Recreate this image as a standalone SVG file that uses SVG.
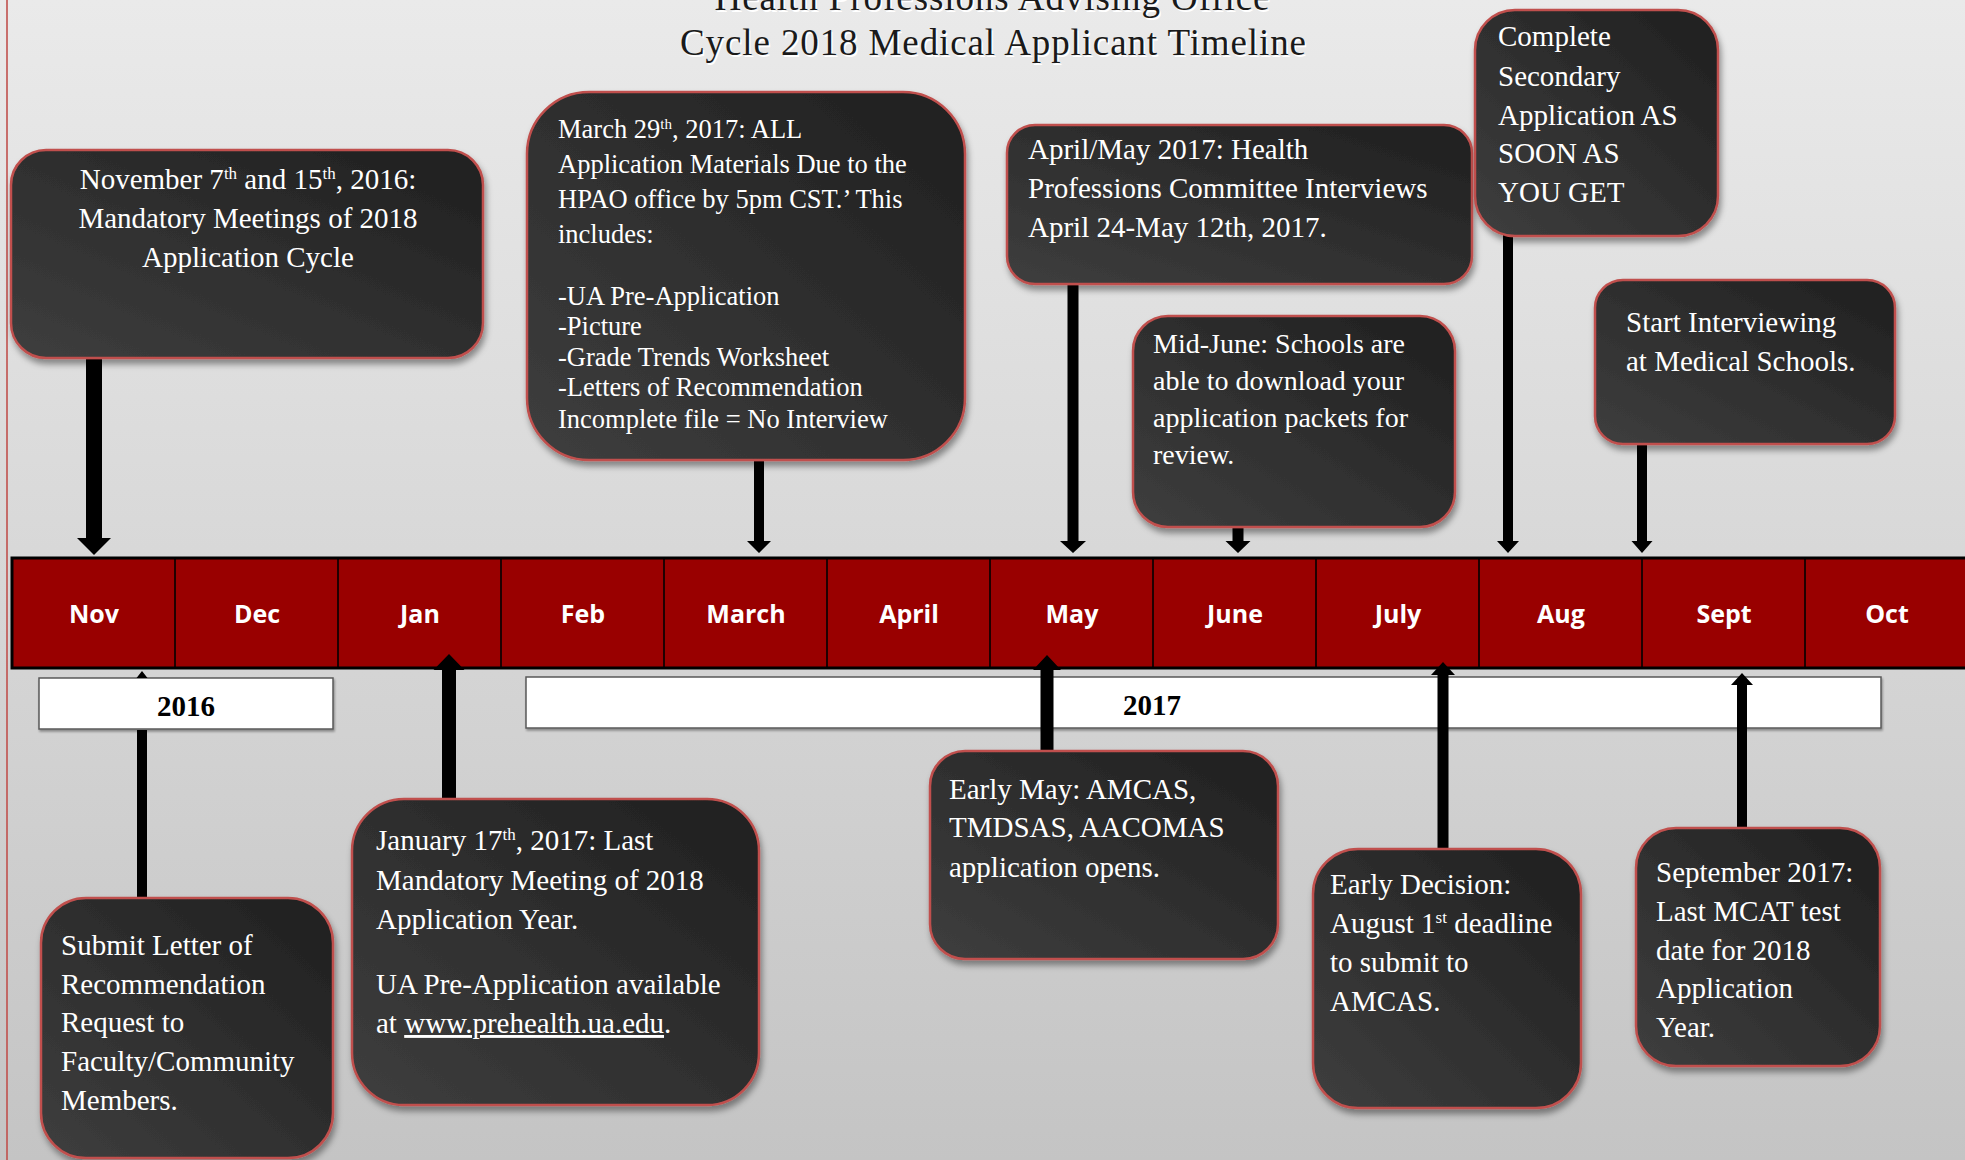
<svg xmlns="http://www.w3.org/2000/svg" width="1965" height="1160" viewBox="0 0 1965 1160">
<defs>
<linearGradient id="bg" x1="0" y1="0" x2="0" y2="1">
<stop offset="0" stop-color="#eaeaea"/>
<stop offset="1" stop-color="#c4c4c4"/>
</linearGradient>
<linearGradient id="boxGrad" x1="1" y1="0" x2="0" y2="1">
<stop offset="0" stop-color="#1f1f1f"/>
<stop offset="1" stop-color="#3e3e3e"/>
</linearGradient>
<filter id="shadow" x="-10%" y="-10%" width="125%" height="130%">
<feDropShadow dx="2" dy="5" stdDeviation="3" flood-color="#000" flood-opacity="0.4"/>
</filter>
<filter id="yshadow" x="-5%" y="-20%" width="110%" height="150%">
<feDropShadow dx="1" dy="2" stdDeviation="1.2" flood-color="#000" flood-opacity="0.35"/>
</filter>
<style>
.box{fill:url(#boxGrad);stroke:#c0504d;stroke-width:2.5;filter:url(#shadow)}
.txt{font-family:"Liberation Serif","Times New Roman",serif;font-size:29px;fill:#ffffff}
.sup{font-size:17px}
.month{font-family:"Open Sans","Liberation Sans",sans-serif;font-weight:700;font-size:25px;fill:#ffffff;text-anchor:middle}
.yearbox{fill:#ffffff;stroke:#595959;stroke-width:1.5;filter:url(#yshadow)}
.year{font-family:"Liberation Serif","Times New Roman",serif;font-weight:700;font-size:29px;fill:#000;text-anchor:middle}
.div{stroke:#000;stroke-width:1.6}
.conn{fill:#000}
.title{font-family:"Liberation Serif","Times New Roman",serif;font-size:37px;text-anchor:middle}
</style>
</defs>

<rect x="0" y="0" width="1965" height="1160" fill="url(#bg)"/>
<line x1="7" y1="0" x2="7" y2="1160" stroke="#c0504d" stroke-width="1.6"/>

<g id="title">
<text class="title" x="993.5" y="11.5" fill="#ffffff" textLength="555" lengthAdjust="spacing">Health Professions Advising Office</text>
<text class="title" x="992" y="10" fill="#1a1a1a" textLength="555" lengthAdjust="spacing">Health Professions Advising Office</text>
<text class="title" x="994.5" y="56.5" fill="#ffffff" textLength="626" lengthAdjust="spacing">Cycle 2018 Medical Applicant Timeline</text>
<text class="title" x="993" y="55" fill="#1a1a1a" textLength="626" lengthAdjust="spacing">Cycle 2018 Medical Applicant Timeline</text>
</g>

<g id="timeline">
<rect x="12" y="558" width="1965" height="110" fill="#990000" stroke="#000" stroke-width="3"/>
<line class="div" x1="175" y1="558" x2="175" y2="668"/>
<line class="div" x1="338" y1="558" x2="338" y2="668"/>
<line class="div" x1="501" y1="558" x2="501" y2="668"/>
<line class="div" x1="664" y1="558" x2="664" y2="668"/>
<line class="div" x1="827" y1="558" x2="827" y2="668"/>
<line class="div" x1="990" y1="558" x2="990" y2="668"/>
<line class="div" x1="1153" y1="558" x2="1153" y2="668"/>
<line class="div" x1="1316" y1="558" x2="1316" y2="668"/>
<line class="div" x1="1479" y1="558" x2="1479" y2="668"/>
<line class="div" x1="1642" y1="558" x2="1642" y2="668"/>
<line class="div" x1="1805" y1="558" x2="1805" y2="668"/>
<text class="month" x="94" y="623">Nov</text>
<text class="month" x="257" y="623">Dec</text>
<text class="month" x="420" y="623">Jan</text>
<text class="month" x="583" y="623">Feb</text>
<text class="month" x="746" y="623">March</text>
<text class="month" x="909" y="623">April</text>
<text class="month" x="1072" y="623">May</text>
<text class="month" x="1235" y="623">June</text>
<text class="month" x="1398" y="623">July</text>
<text class="month" x="1561" y="623">Aug</text>
<text class="month" x="1724" y="623">Sept</text>
<text class="month" x="1887" y="623">Oct</text>
</g>

<g id="year-2016">
<rect class="yearbox" x="39" y="678" width="294" height="51"/>
<text class="year" x="186" y="716">2016</text>
</g>
<g id="year-2017">
<rect class="yearbox" x="526" y="677" width="1355" height="51"/>
<text class="year" x="1152" y="715">2017</text>
</g>

<g id="connectors">
<path class="conn" d="M86,355 L102,355 L102,538 L111,538 L94,555 L77,538 L86,538 Z"/>
<path class="conn" d="M754,455 L764,455 L764,541 L771,541 L759,553 L747,541 L754,541 Z"/>
<path class="conn" d="M1067.5,280 L1078.5,280 L1078.5,541 L1086,541 L1073,553 L1060,541 L1067.5,541 Z"/>
<path class="conn" d="M1232.5,522 L1243.5,522 L1243.5,541 L1250.5,541 L1238,553 L1225.5,541 L1232.5,541 Z"/>
<path class="conn" d="M1503,230 L1513,230 L1513,541 L1519,541 L1508,553 L1497,541 L1503,541 Z"/>
<path class="conn" d="M1637,440 L1647,440 L1647,541 L1652.5,541 L1642,553 L1631.5,541 L1637,541 Z"/>
<path class="conn" d="M137,730 L147,730 L147,902 L137,902 Z M142,671 L147.5,678 L136.5,678 Z"/>
<path class="conn" d="M449,654 L464.5,670 L456,670 L456,805 L442,805 L442,670 L433.5,670 Z"/>
<path class="conn" d="M1047,655 L1061,670 L1053.5,670 L1053.5,756 L1040.5,756 L1040.5,670 L1033,670 Z"/>
<path class="conn" d="M1443,662 L1455,675 L1448.5,675 L1448.5,854 L1437.5,854 L1437.5,675 L1431,675 Z"/>
<path class="conn" d="M1742,673 L1753,685 L1747,685 L1747,833 L1737,833 L1737,685 L1731,685 Z"/>
</g>

<g id="node-nov">
<rect class="box" x="11" y="150" width="472" height="208" rx="35"/>
<text class="txt" x="248" y="189" text-anchor="middle">November 7<tspan class="sup" dy="-10">th</tspan><tspan dy="10"> and 15</tspan><tspan class="sup" dy="-10">th</tspan><tspan dy="10">, 2016:</tspan></text>
<text class="txt" x="248" y="228" text-anchor="middle">Mandatory Meetings of 2018</text>
<text class="txt" x="248" y="267" text-anchor="middle">Application Cycle</text>
</g>

<g id="node-march">
<rect class="box" x="527" y="92" width="438" height="368" rx="62"/>
<text class="txt" style="font-size:26.5px" x="558" y="138">March 29<tspan class="sup" style="font-size:15px" dy="-9">th</tspan><tspan dy="9">, 2017: ALL</tspan></text>
<text class="txt" style="font-size:26.5px" x="558" y="173">Application Materials Due to the</text>
<text class="txt" style="font-size:26.5px" x="558" y="208">HPAO office by 5pm CST.’ This</text>
<text class="txt" style="font-size:26.5px" x="558" y="243">includes:</text>
<text class="txt" style="font-size:26.5px" x="558" y="305">-UA Pre-Application</text>
<text class="txt" style="font-size:26.5px" x="558" y="335">-Picture</text>
<text class="txt" style="font-size:26.5px" x="558" y="366">-Grade Trends Worksheet</text>
<text class="txt" style="font-size:26.5px" x="558" y="396">-Letters of Recommendation</text>
<text class="txt" style="font-size:26.5px" x="558" y="428">Incomplete file = No Interview</text>
</g>

<g id="node-aprilmay">
<rect class="box" x="1007" y="125" width="465" height="159" rx="28"/>
<text class="txt" x="1028" y="159">April/May 2017: Health</text>
<text class="txt" x="1028" y="198">Professions Committee Interviews</text>
<text class="txt" x="1028" y="237">April 24-May 12th, 2017.</text>
</g>

<g id="node-midjune">
<rect class="box" x="1133" y="316" width="322" height="211" rx="35"/>
<text class="txt" style="font-size:28px" x="1153" y="353">Mid-June: Schools are</text>
<text class="txt" style="font-size:28px" x="1153" y="390">able to download your</text>
<text class="txt" style="font-size:28px" x="1153" y="427">application packets for</text>
<text class="txt" style="font-size:28px" x="1153" y="464">review.</text>
</g>

<g id="node-secondary">
<rect class="box" x="1475" y="10" width="243" height="226" rx="40"/>
<text class="txt" x="1498" y="46">Complete</text>
<text class="txt" x="1498" y="86">Secondary</text>
<text class="txt" x="1498" y="125">Application AS</text>
<text class="txt" x="1498" y="163">SOON AS</text>
<text class="txt" x="1498" y="202">YOU GET</text>
</g>

<g id="node-interviewing">
<rect class="box" x="1595" y="280" width="300" height="164" rx="28"/>
<text class="txt" x="1626" y="332">Start Interviewing</text>
<text class="txt" x="1626" y="371">at Medical Schools.</text>
</g>

<g id="node-letter">
<rect class="box" x="41" y="898" width="292" height="260" rx="45"/>
<text class="txt" x="61" y="955">Submit Letter of</text>
<text class="txt" x="61" y="994">Recommendation</text>
<text class="txt" x="61" y="1032">Request to</text>
<text class="txt" x="61" y="1071">Faculty/Community</text>
<text class="txt" x="61" y="1110">Members.</text>
</g>

<g id="node-jan">
<rect class="box" x="352" y="799" width="407" height="306" rx="52"/>
<text class="txt" x="376" y="850">January 17<tspan class="sup" dy="-10">th</tspan><tspan dy="10">, 2017: Last</tspan></text>
<text class="txt" x="376" y="890">Mandatory Meeting of 2018</text>
<text class="txt" x="376" y="929">Application Year.</text>
<text class="txt" x="376" y="994">UA Pre-Application available</text>
<text class="txt" x="376" y="1033">at <tspan text-decoration="underline">www.prehealth.ua.edu</tspan>.</text>
</g>

<g id="node-earlymay">
<rect class="box" x="930" y="751" width="348" height="208" rx="35"/>
<text class="txt" x="949" y="799">Early May: AMCAS,</text>
<text class="txt" x="949" y="837">TMDSAS, AACOMAS</text>
<text class="txt" x="949" y="877">application opens.</text>
</g>

<g id="node-earlydecision">
<rect class="box" x="1313" y="849" width="268" height="259" rx="45"/>
<text class="txt" x="1330" y="894">Early Decision:</text>
<text class="txt" x="1330" y="933">August 1<tspan class="sup" dy="-10">st</tspan><tspan dy="10"> deadline</tspan></text>
<text class="txt" x="1330" y="972">to submit to</text>
<text class="txt" x="1330" y="1011">AMCAS.</text>
</g>

<g id="node-sept">
<rect class="box" x="1636" y="828" width="244" height="238" rx="40"/>
<text class="txt" x="1656" y="882">September 2017:</text>
<text class="txt" x="1656" y="921">Last MCAT test</text>
<text class="txt" x="1656" y="960">date for 2018</text>
<text class="txt" x="1656" y="998">Application</text>
<text class="txt" x="1656" y="1037">Year.</text>
</g>
</svg>
